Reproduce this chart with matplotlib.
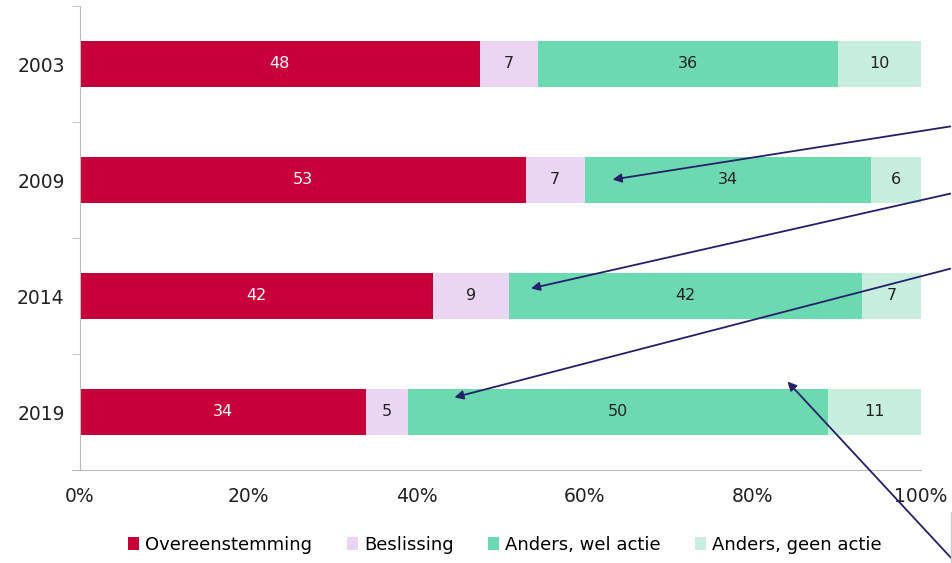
import numpy as np
import matplotlib.pyplot as plt

years = ["2003", "2009", "2014", "2019"]
overeenstemming = [48, 53, 42, 34]
beslissing = [7, 7, 9, 5]
wel_actie = [36, 34, 42, 50]
geen_actie = [10, 6, 7, 11]

series = [
    ("Overeenstemming", overeenstemming, "#c8003a", "white"),
    ("Beslissing", beslissing, "#ead6f2", "#222222"),
    ("Anders, wel actie", wel_actie, "#6cd9b0", "#222222"),
    ("Anders, geen actie", geen_actie, "#c8eedd", "#222222"),
]

plt.rcParams["font.family"] = ["DejaVu Sans"]

fig = plt.figure(figsize=(9.53, 5.63), dpi=100)
ax = fig.add_axes([80 / 953, 1 - 470 / 563, 841 / 953, 464 / 563])

# rounded percentages don't always add up to 100, so scale each row to 100%
totals = np.sum([overeenstemming, beslissing, wel_actie, geen_actie], axis=0)

y = np.arange(len(years))
left = np.zeros(len(years))
for name, vals, color, tcolor in series:
    vals = np.array(vals, dtype=float)
    w = vals / totals * 100
    ax.barh(y, w, left=left, height=0.4, color=color, label=name)
    for yi, l, wi, v in zip(y, left, w, vals):
        ax.text(l + wi / 2, yi, str(int(v)), ha="center", va="center",
                fontsize=11.5, color=tcolor)
    left += w

ax.set_xlim(0, 100)
ax.set_ylim(3.5, -0.5)
ax.set_yticks(y)
ax.set_yticklabels(years, fontsize=13.5, color="#222222")
ax.set_yticks(np.arange(-0.5, 4, 1), minor=True)
ax.tick_params(axis="y", which="major", length=0, pad=11)
ax.tick_params(axis="y", which="minor", length=6, color="#bbbbbb")
ax.set_xticks(np.arange(0, 101, 20))
ax.set_xticklabels([f"{v}%" for v in range(0, 101, 20)], fontsize=13.5, color="#222222")
ax.tick_params(axis="x", length=0, pad=12)
for s in ["top", "right"]:
    ax.spines[s].set_visible(False)
ax.spines["left"].set_color("#bbbbbb")
ax.spines["bottom"].set_color("#bbbbbb")
ax.spines["bottom"].set_bounds(-1, 100)

ax.legend(loc="center", bbox_to_anchor=(505 / 953, 1 - 545 / 563), bbox_transform=fig.transFigure,
          ncol=4, frameon=False, fontsize=13, handlelength=0.6, handleheight=0.75,
          handletextpad=0.35, columnspacing=1.9)

# annotation arrows drawn over the chart
arrow = dict(arrowstyle="-|>", color="#25206a", lw=1.3, mutation_scale=13)
heads = [(63.0, 1.0), (53.3, 1.94), (44.2, 2.88), (83.9, 2.72)]
tails = [(1.0, 1 - 126 / 563), (1.0, 1 - 193 / 563), (1.0, 1 - 268 / 563), (1.0, 1 - 560 / 563)]
for h, t in zip(heads, tails):
    ax.annotate("", xy=h, xycoords="data", xytext=t, textcoords="figure fraction",
                arrowprops=arrow, annotation_clip=False)

fig.add_artist(plt.Line2D([951 / 953, 951 / 953], [0, 1 - 512 / 563],
                          transform=fig.transFigure, color="#cccccc", lw=1))

fig.savefig("out.png", dpi=100)
